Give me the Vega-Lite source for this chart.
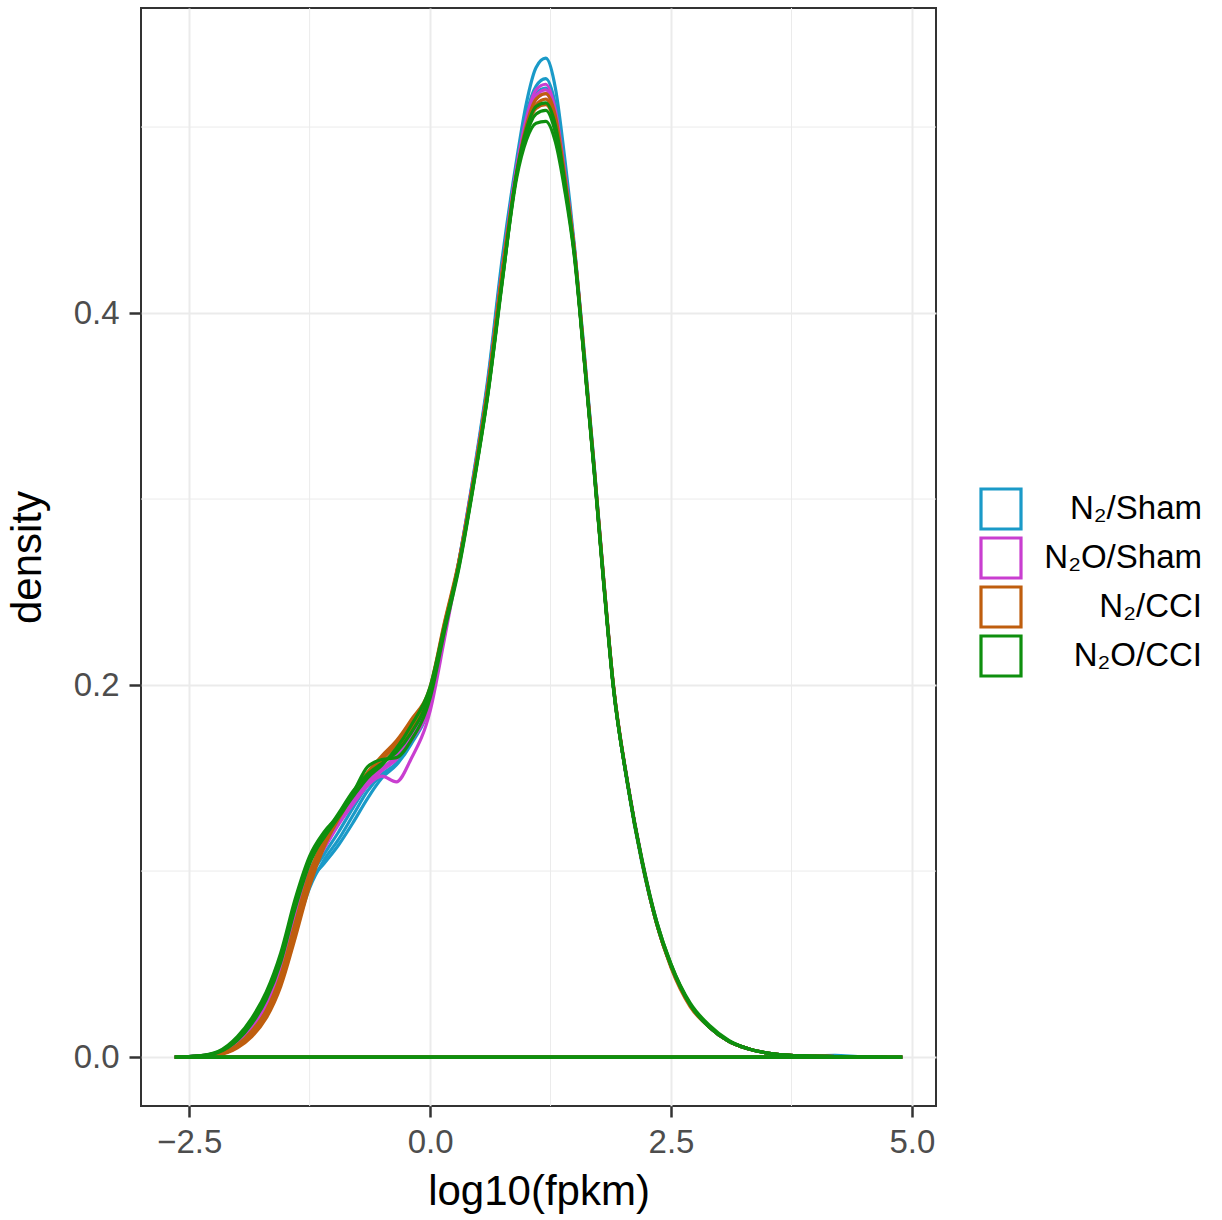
{
  "$schema": "https://vega.github.io/schema/vega-lite/v6.json",
  "width": 795,
  "height": 1098,
  "autosize": {"type": "none"},
  "padding": {"left": 141, "top": 8, "right": 286, "bottom": 114},
  "background": "white",
  "config": {
    "font": "Liberation Sans",
    "view": {"stroke": "#333333", "strokeWidth": 2},
    "axis": {"domain": false}
  },
  "datasets": {
    "curves": [
      {"i":0,"x":-2.65,"b1":0,"b2":0,"b3":0,"m1":0,"m2":0,"m3":0,"o1":0,"o2":0,"o3":0,"g1":0,"g2":0,"g3":0},
      {"i":1,"x":-2.4,"b1":0.0004,"b2":0.0004,"b3":0.0005,"m1":0.0006,"m2":0.0005,"m3":0.0005,"o1":0.0003,"o2":0.0003,"o3":0.0004,"g1":0.0007,"g2":0.0006,"g3":0.0006},
      {"i":2,"x":-2.2,"b1":0.0018,"b2":0.0016,"b3":0.002,"m1":0.0024,"m2":0.002,"m3":0.0022,"o1":0.0012,"o2":0.0013,"o3":0.0016,"g1":0.003,"g2":0.0025,"g3":0.0027},
      {"i":3,"x":-2.0,"b1":0.007,"b2":0.0065,"b3":0.0075,"m1":0.009,"m2":0.008,"m3":0.0085,"o1":0.005,"o2":0.0055,"o3":0.0065,"g1":0.011,"g2":0.009,"g3":0.01},
      {"i":4,"x":-1.85,"b1":0.014,"b2":0.013,"b3":0.015,"m1":0.018,"m2":0.016,"m3":0.017,"o1":0.011,"o2":0.012,"o3":0.014,"g1":0.021,"g2":0.018,"g3":0.02},
      {"i":5,"x":-1.7,"b1":0.025,"b2":0.023,"b3":0.026,"m1":0.03,"m2":0.028,"m3":0.029,"o1":0.021,"o2":0.022,"o3":0.025,"g1":0.035,"g2":0.031,"g3":0.033},
      {"i":6,"x":-1.55,"b1":0.043,"b2":0.04,"b3":0.045,"m1":0.05,"m2":0.047,"m3":0.048,"o1":0.038,"o2":0.04,"o3":0.044,"g1":0.056,"g2":0.051,"g3":0.053},
      {"i":7,"x":-1.4,"b1":0.07,"b2":0.067,"b3":0.072,"m1":0.077,"m2":0.074,"m3":0.075,"o1":0.064,"o2":0.067,"o3":0.072,"g1":0.085,"g2":0.08,"g3":0.082},
      {"i":8,"x":-1.25,"b1":0.094,"b2":0.091,"b3":0.096,"m1":0.1,"m2":0.098,"m3":0.099,"o1":0.092,"o2":0.095,"o3":0.099,"g1":0.108,"g2":0.104,"g3":0.106},
      {"i":9,"x":-1.1,"b1":0.104,"b2":0.106,"b3":0.109,"m1":0.113,"m2":0.112,"m3":0.114,"o1":0.113,"o2":0.115,"o3":0.117,"g1":0.121,"g2":0.119,"g3":0.118},
      {"i":10,"x":-0.95,"b1":0.114,"b2":0.117,"b3":0.121,"m1":0.126,"m2":0.125,"m3":0.127,"o1":0.128,"o2":0.129,"o3":0.13,"g1":0.13,"g2":0.131,"g3":0.129},
      {"i":11,"x":-0.8,"b1":0.126,"b2":0.13,"b3":0.134,"m1":0.137,"m2":0.136,"m3":0.138,"o1":0.141,"o2":0.142,"o3":0.142,"g1":0.142,"g2":0.143,"g3":0.14},
      {"i":12,"x":-0.65,"b1":0.139,"b2":0.143,"b3":0.146,"m1":0.146,"m2":0.146,"m3":0.148,"o1":0.152,"o2":0.153,"o3":0.152,"g1":0.156,"g2":0.152,"g3":0.15},
      {"i":13,"x":-0.5,"b1":0.15,"b2":0.152,"b3":0.155,"m1":0.151,"m2":0.154,"m3":0.155,"o1":0.16,"o2":0.162,"o3":0.158,"g1":0.16,"g2":0.158,"g3":0.157},
      {"i":14,"x":-0.35,"b1":0.157,"b2":0.158,"b3":0.161,"m1":0.148,"m2":0.16,"m3":0.162,"o1":0.168,"o2":0.17,"o3":0.165,"g1":0.161,"g2":0.164,"g3":0.166},
      {"i":15,"x":-0.2,"b1":0.168,"b2":0.17,"b3":0.172,"m1":0.16,"m2":0.17,"m3":0.172,"o1":0.179,"o2":0.181,"o3":0.176,"g1":0.17,"g2":0.174,"g3":0.178},
      {"i":16,"x":0.0,"b1":0.19,"b2":0.192,"b3":0.193,"m1":0.186,"m2":0.19,"m3":0.192,"o1":0.198,"o2":0.199,"o3":0.196,"g1":0.193,"g2":0.196,"g3":0.199},
      {"i":17,"x":0.15,"b1":0.228,"b2":0.229,"b3":0.23,"m1":0.225,"m2":0.229,"m3":0.23,"o1":0.233,"o2":0.234,"o3":0.232,"g1":0.229,"g2":0.231,"g3":0.232},
      {"i":18,"x":0.3,"b1":0.267,"b2":0.267,"b3":0.266,"m1":0.266,"m2":0.266,"m3":0.266,"o1":0.266,"o2":0.267,"o3":0.266,"g1":0.263,"g2":0.264,"g3":0.265},
      {"i":19,"x":0.45,"b1":0.313,"b2":0.312,"b3":0.311,"m1":0.311,"m2":0.311,"m3":0.31,"o1":0.31,"o2":0.31,"o3":0.31,"g1":0.307,"g2":0.308,"g3":0.308},
      {"i":20,"x":0.6,"b1":0.365,"b2":0.363,"b3":0.362,"m1":0.361,"m2":0.361,"m3":0.36,"o1":0.36,"o2":0.36,"o3":0.36,"g1":0.356,"g2":0.357,"g3":0.357},
      {"i":21,"x":0.75,"b1":0.43,"b2":0.427,"b3":0.425,"m1":0.423,"m2":0.424,"m3":0.423,"o1":0.423,"o2":0.422,"o3":0.422,"g1":0.417,"g2":0.418,"g3":0.418},
      {"i":22,"x":0.9,"b1":0.483,"b2":0.48,"b3":0.478,"m1":0.479,"m2":0.478,"m3":0.477,"o1":0.476,"o2":0.475,"o3":0.475,"g1":0.476,"g2":0.475,"g3":0.473},
      {"i":23,"x":1.0,"b1":0.513,"b2":0.507,"b3":0.504,"m1":0.505,"m2":0.503,"m3":0.502,"o1":0.501,"o2":0.5,"o3":0.498,"g1":0.499,"g2":0.496,"g3":0.493},
      {"i":24,"x":1.1,"b1":0.532,"b2":0.522,"b3":0.518,"m1":0.52,"m2":0.517,"m3":0.515,"o1":0.515,"o2":0.512,"o3":0.51,"g1":0.511,"g2":0.507,"g3":0.502},
      {"i":25,"x":1.2,"b1":0.537,"b2":0.526,"b3":0.521,"m1":0.523,"m2":0.52,"m3":0.518,"o1":0.518,"o2":0.515,"o3":0.512,"g1":0.513,"g2":0.509,"g3":0.503},
      {"i":26,"x":1.3,"b1":0.521,"b2":0.512,"b3":0.507,"m1":0.509,"m2":0.507,"m3":0.505,"o1":0.506,"o2":0.503,"o3":0.5,"g1":0.501,"g2":0.497,"g3":0.492},
      {"i":27,"x":1.4,"b1":0.482,"b2":0.476,"b3":0.474,"m1":0.475,"m2":0.473,"m3":0.472,"o1":0.473,"o2":0.471,"o3":0.469,"g1":0.47,"g2":0.468,"g3":0.465},
      {"i":28,"x":1.5,"b1":0.435,"b2":0.433,"b3":0.432,"m1":0.433,"m2":0.432,"m3":0.432,"o1":0.433,"o2":0.432,"o3":0.431,"g1":0.431,"g2":0.43,"g3":0.429},
      {"i":29,"x":1.6,"b1":0.379,"b2":0.377,"b3":0.376,"m1":0.376,"m2":0.376,"m3":0.375,"o1":0.377,"o2":0.376,"o3":0.375,"g1":0.375,"g2":0.375,"g3":0.374},
      {"i":30,"x":1.7,"b1":0.32,"b2":0.319,"b3":0.318,"m1":0.318,"m2":0.318,"m3":0.317,"o1":0.319,"o2":0.318,"o3":0.317,"g1":0.317,"g2":0.317,"g3":0.316},
      {"i":31,"x":1.8,"b1":0.258,"b2":0.257,"b3":0.257,"m1":0.257,"m2":0.257,"m3":0.256,"o1":0.258,"o2":0.257,"o3":0.256,"g1":0.256,"g2":0.256,"g3":0.255},
      {"i":32,"x":1.9,"b1":0.201,"b2":0.2,"b3":0.2,"m1":0.201,"m2":0.2,"m3":0.2,"o1":0.201,"o2":0.201,"o3":0.2,"g1":0.2,"g2":0.2,"g3":0.199},
      {"i":33,"x":2.05,"b1":0.146,"b2":0.147,"b3":0.147,"m1":0.148,"m2":0.147,"m3":0.147,"o1":0.147,"o2":0.147,"o3":0.147,"g1":0.147,"g2":0.147,"g3":0.147},
      {"i":34,"x":2.2,"b1":0.104,"b2":0.105,"b3":0.105,"m1":0.106,"m2":0.105,"m3":0.105,"o1":0.105,"o2":0.105,"o3":0.105,"g1":0.105,"g2":0.105,"g3":0.106},
      {"i":35,"x":2.35,"b1":0.072,"b2":0.072,"b3":0.072,"m1":0.073,"m2":0.072,"m3":0.072,"o1":0.072,"o2":0.072,"o3":0.072,"g1":0.073,"g2":0.072,"g3":0.073},
      {"i":36,"x":2.5,"b1":0.049,"b2":0.049,"b3":0.049,"m1":0.049,"m2":0.049,"m3":0.049,"o1":0.048,"o2":0.049,"o3":0.049,"g1":0.05,"g2":0.049,"g3":0.05},
      {"i":37,"x":2.7,"b1":0.028,"b2":0.028,"b3":0.028,"m1":0.028,"m2":0.028,"m3":0.028,"o1":0.027,"o2":0.028,"o3":0.028,"g1":0.029,"g2":0.028,"g3":0.028},
      {"i":38,"x":2.9,"b1":0.016,"b2":0.016,"b3":0.016,"m1":0.016,"m2":0.016,"m3":0.016,"o1":0.016,"o2":0.016,"o3":0.016,"g1":0.017,"g2":0.016,"g3":0.016},
      {"i":39,"x":3.1,"b1":0.0085,"b2":0.0085,"b3":0.0085,"m1":0.0085,"m2":0.0085,"m3":0.0085,"o1":0.0085,"o2":0.0085,"o3":0.0085,"g1":0.009,"g2":0.0085,"g3":0.0085},
      {"i":40,"x":3.3,"b1":0.0045,"b2":0.0045,"b3":0.0045,"m1":0.0045,"m2":0.0045,"m3":0.0045,"o1":0.0045,"o2":0.0045,"o3":0.0045,"g1":0.0045,"g2":0.0045,"g3":0.0045},
      {"i":41,"x":3.6,"b1":0.0015,"b2":0.0015,"b3":0.0015,"m1":0.0015,"m2":0.0015,"m3":0.0015,"o1":0.0015,"o2":0.0015,"o3":0.0015,"g1":0.0015,"g2":0.0015,"g3":0.0015},
      {"i":42,"x":3.9,"b1":0.0006,"b2":0.0006,"b3":0.0006,"m1":0.0006,"m2":0.0006,"m3":0.0006,"o1":0.0006,"o2":0.0006,"o3":0.0006,"g1":0.0006,"g2":0.0006,"g3":0.0006},
      {"i":43,"x":4.2,"b1":0.0009,"b2":0.0003,"b3":0.0003,"m1":0.0003,"m2":0.0003,"m3":0.0003,"o1":0.0003,"o2":0.0003,"o3":0.0003,"g1":0.0003,"g2":0.0003,"g3":0.0003},
      {"i":44,"x":4.5,"b1":0.0001,"b2":0.0001,"b3":0.0001,"m1":0.0001,"m2":0.0001,"m3":0.0001,"o1":0.0001,"o2":0.0001,"o3":0.0001,"g1":0.0001,"g2":0.0001,"g3":0.0001},
      {"i":45,"x":4.9,"b1":0,"b2":0,"b3":0,"m1":0,"m2":0,"m3":0,"o1":0,"o2":0,"o3":0,"g1":0,"g2":0,"g3":0},
      {"i":46,"x":-2.65,"b1":0,"b2":0,"b3":0,"m1":0,"m2":0,"m3":0,"o1":0,"o2":0,"o3":0,"g1":0,"g2":0,"g3":0}
    ],
    "samples": [
      {"sample":"b1","group":"N₂/Sham"},{"sample":"b2","group":"N₂/Sham"},{"sample":"b3","group":"N₂/Sham"},
      {"sample":"m1","group":"N₂O/Sham"},{"sample":"m2","group":"N₂O/Sham"},{"sample":"m3","group":"N₂O/Sham"},
      {"sample":"o1","group":"N₂/CCI"},{"sample":"o2","group":"N₂/CCI"},{"sample":"o3","group":"N₂/CCI"},
      {"sample":"g1","group":"N₂O/CCI"},{"sample":"g2","group":"N₂O/CCI"},{"sample":"g3","group":"N₂O/CCI"}
    ],
    "minorx": [{"v":-1.25},{"v":1.25},{"v":3.75}],
    "minory": [{"v":0.1},{"v":0.3},{"v":0.5}]
  },
  "layer": [
    {
      "data": {"name": "minorx"},
      "mark": {"type": "rule", "color": "#EBEBEB", "strokeWidth": 1},
      "encoding": {"x": {"field": "v", "type": "quantitative", "title": "log10(fpkm)"}}
    },
    {
      "data": {"name": "minory"},
      "mark": {"type": "rule", "color": "#EBEBEB", "strokeWidth": 1},
      "encoding": {"y": {"field": "v", "type": "quantitative", "title": "density"}}
    },
    {
      "data": {"name": "curves"},
      "transform": [
        {"fold": ["b1","b2","b3","m1","m2","m3","o1","o2","o3","g1","g2","g3"], "as": ["sample","density"]},
        {"lookup": "sample", "from": {"data": {"name": "samples"}, "key": "sample", "fields": ["group"]}}
      ],
      "mark": {"type": "line", "strokeWidth": 3.2, "interpolate": "monotone"},
      "encoding": {
        "x": {
          "field": "x", "type": "quantitative",
          "scale": {"domain": [-3.0, 5.25], "nice": false, "zero": false},
          "axis": {
            "title": "log10(fpkm)", "values": [-2.5, 0, 2.5, 5], "format": ".1f",
            "labelFontSize": 33, "labelColor": "#4D4D4D", "labelPadding": 9,
            "tickSize": 11, "tickWidth": 2.5, "tickColor": "#333333",
            "titleFontSize": 42, "titleFontWeight": "normal", "titleColor": "#000000", "titlePadding": 12,
            "grid": true, "gridColor": "#EBEBEB", "gridWidth": 2
          }
        },
        "y": {
          "field": "density", "type": "quantitative",
          "scale": {"domain": [-0.0263, 0.564], "nice": false, "zero": false},
          "axis": {
            "title": "density", "values": [0, 0.2, 0.4], "format": ".1f",
            "labelFontSize": 33, "labelColor": "#4D4D4D", "labelPadding": 10,
            "tickSize": 12, "tickWidth": 2.5, "tickColor": "#333333",
            "titleFontSize": 42, "titleFontWeight": "normal", "titleColor": "#000000", "titlePadding": 24,
            "grid": true, "gridColor": "#EBEBEB", "gridWidth": 2
          }
        },
        "color": {
          "field": "group", "type": "nominal",
          "scale": {"domain": ["N₂/Sham", "N₂O/Sham", "N₂/CCI", "N₂O/CCI"], "range": ["#1A9AC8", "#C93ED0", "#BF5E0E", "#0E8F0E"]},
          "legend": {
            "title": null, "orient": "none", "legendX": 838, "legendY": 479,
            "symbolType": "square", "symbolSize": 1600, "symbolStrokeWidth": 3.2, "symbolFillColor": "white",
            "labelFontSize": 33, "labelColor": "#000000", "labelAlign": "right", "labelOffset": 179,
            "rowPadding": -10, "padding": 0
          }
        },
        "detail": {"field": "sample"},
        "order": {"field": "i", "type": "quantitative"}
      }
    }
  ]
}
